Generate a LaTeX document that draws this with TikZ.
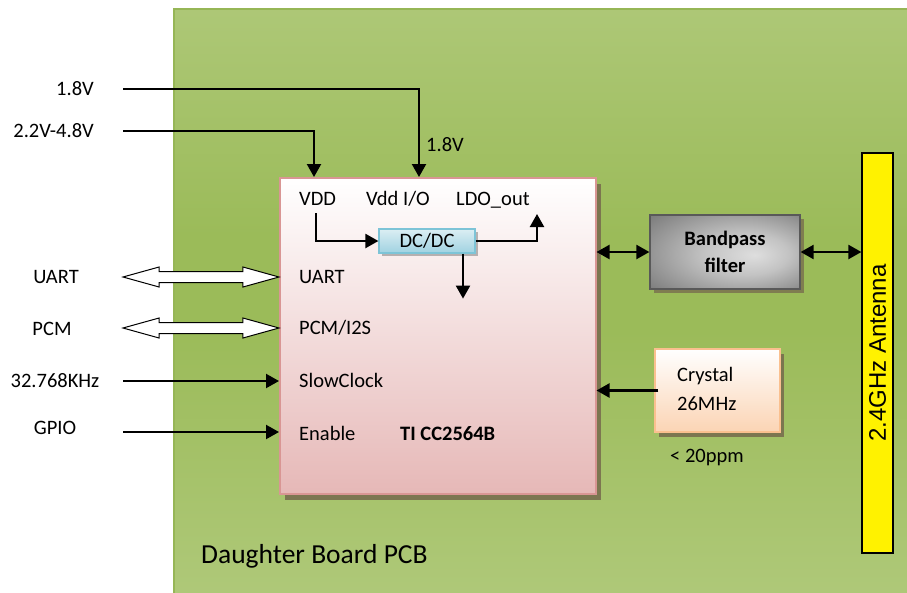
\documentclass[tikz,border=0pt]{standalone}
\usepackage{fontspec}
\setmainfont{Carlito}
\newfontfamily\antfont{Liberation Sans}
\usetikzlibrary{arrows.meta, positioning, calc, shapes.arrows, shadows}

\definecolor{pcbLight}{RGB}{197,216,157}
\definecolor{pcbDark}{RGB}{155,187,89}
\definecolor{pcbLine}{RGB}{150,182,86}
\definecolor{chipBot}{RGB}{230,184,183}
\definecolor{chipLine}{RGB}{217,150,148}
\definecolor{dcTop}{RGB}{219,238,243}
\definecolor{dcBot}{RGB}{160,210,225}
\definecolor{dcLine}{RGB}{125,196,215}
\definecolor{bpfIn}{RGB}{222,222,222}
\definecolor{bpfMid}{RGB}{195,195,195}
\definecolor{bpfOut}{RGB}{85,85,85}
\definecolor{bpfLine}{RGB}{89,89,89}
\definecolor{xtalBot}{RGB}{251,212,180}
\definecolor{xtalLine}{RGB}{250,192,143}
\definecolor{shadowCol}{RGB}{120,110,78}

\pgfdeclareverticalshading{pcbshade}{100bp}{color(0bp)=(pcbLight); color(48bp)=(pcbDark); color(56bp)=(pcbDark); color(100bp)=(pcbLight)}
\pgfdeclareradialshading{bpfshade}{\pgfpoint{10bp}{-2bp}}{color(0bp)=(bpfIn); color(14bp)=(bpfMid); color(50bp)=(bpfOut)}

\begin{document}
\begin{tikzpicture}[
    x=1pt, y=-1pt,
    font=\fontsize{20.5}{24}\selectfont,
    txt/.style={inner sep=0pt, text height=13pt, text depth=0pt},
    pcbbox/.style={draw=pcbLine, line width=1.5pt, shading=pcbshade},
    chipbox/.style={draw=chipLine, line width=1.5pt, top color=white, bottom color=chipBot,
                    drop shadow={shadow xshift=5pt, shadow yshift=-6pt, fill=shadowCol, opacity=.9}},
    dcbox/.style={draw=dcLine, line width=1.2pt, top color=dcTop, bottom color=dcBot, txt,
                  drop shadow={shadow xshift=3pt, shadow yshift=-3pt, fill=black!60, opacity=.45}},
    bpfbox/.style={draw=bpfLine, line width=1.2pt, shading=bpfshade,
                   align=center, font=\fontsize{20.5}{27}\selectfont\bfseries,
                   drop shadow={shadow xshift=4pt, shadow yshift=-4pt, fill=shadowCol, opacity=.8}},
    xtalbox/.style={draw=xtalLine, line width=1.5pt, top color=white, bottom color=xtalBot,
                    drop shadow={shadow xshift=4pt, shadow yshift=-5pt, fill=shadowCol, opacity=.9}},
    antbox/.style={draw=black, line width=1.2pt, fill=yellow, font=\fontsize{24}{28}\antfont, inner sep=0pt},
    bus/.style={double arrow, draw=black, fill=white, line width=1pt, minimum height=156pt,
                double arrow head extend=4.5pt, double arrow tip angle=31, inner xsep=0pt, inner ysep=5pt},
    arr/.style={-{Triangle[length=13pt,width=14pt]}, line width=2.2pt},
    biarr/.style={{Triangle[length=13pt,width=14pt]}-{Triangle[length=13pt,width=14pt]}, line width=2.2pt}
]
\useasboundingbox (0,0) rectangle (907,592);

% board
\node[pcbbox, anchor=north west, minimum width=745pt, minimum height=595pt] (pcb) at (173,8) {};
\node[txt, anchor=west, text height=17.5pt, font=\fontsize{27.5}{32}\selectfont] (pcbName) at (201,555) {Daughter Board PCB};

% chip
\node[chipbox, anchor=north west, minimum width=316pt, minimum height=316pt] (chip) at (279,177) {};
\node[txt, anchor=west] (vdd) at (299,199) {VDD};
\node[txt, anchor=west] (vddio) at (366,199) {Vdd I/O};
\node[txt, anchor=west] (ldo) at (456,199) {LDO\_out};
\node[txt, anchor=west] (pinUART) at (299,277) {UART};
\node[txt, anchor=west] (pinPCM) at (299,328) {PCM/I2S};
\node[txt, anchor=west] (pinClk) at (299,381) {SlowClock};
\node[txt, anchor=west] (pinEn) at (299,434) {Enable};
\node[txt, anchor=west, font=\fontsize{20.5}{24}\selectfont\bfseries] (chipName) at (400,434) {TI CC2564B};

\node[dcbox, minimum width=96pt, minimum height=24pt] (dcdc) at (427,241) {DC/DC};
\coordinate (vddOut) at (316,213);
\coordinate (dcDown) at ($(dcdc.south)+(36,0)$);
\coordinate (ldoOut) at (537,214);

\draw[arr] (vddOut) |- (dcdc.west);
\draw[arr] (dcdc.east) -| (ldoOut);
\draw[arr] (dcDown) -- ++(0,45);

% supplies
\coordinate (in18) at (123,89);
\coordinate (in22) at (123,131);
\node[txt, left=29pt of in18] (lbl18) {1.8V};
\node[txt, left=29pt of in22] (lbl22) {2.2V-4.8V};
\coordinate (pinVdd) at ($(chip.north west)+(35,0)$);
\coordinate (pinVddio) at ($(chip.north west)+(140,0)$);
\draw[arr] (in18) -| (pinVddio);
\draw[arr] (in22) -| (pinVdd);
\node[txt, anchor=west] (lblIO) at (426,145) {1.8V};

% host side
\node[txt] (lblUART) at (56,277) {UART};
\node[txt] (lblPCM) at (52,329) {PCM};
\node[txt] (lbl32k) at (55,381) {32.768KHz};
\node[txt] (lblGPIO) at (55,428) {GPIO};
\node[bus] (busUART) at (201,277) {};
\node[bus] (busPCM) at (201,328) {};
\coordinate (in32k) at (123,381);
\coordinate (inGPIO) at (123,432);
\draw[arr] (in32k) -- (in32k -| chip.west);
\draw[arr] (inGPIO) -- (inGPIO -| chip.west);

% rf side
\node[bpfbox, minimum width=150pt, minimum height=74pt] (bpf) at (725,252) {Bandpass\\filter};
\node[antbox, rotate=90, minimum width=400pt, minimum height=31pt] (ant) at (877.5,353) {2.4GHz Antenna};
\draw[biarr] (bpf.west -| chip.east) -- (bpf.west);
\draw[biarr] (bpf.east) -- (bpf.east -| ant.north);

\node[xtalbox, minimum width=125pt, minimum height=83pt] (xtal) at (717.5,390.5) {};
\node[txt, anchor=west] (xtalA) at (677,375) {Crystal};
\node[txt, anchor=west] (xtalB) at (677,404) {26MHz};
\node[txt] (ppm) at (707,456) {< 20ppm};
\draw[arr, shorten <=-4pt] (xtal.west) -- (xtal.west -| chip.east);
\end{tikzpicture}
\end{document}
